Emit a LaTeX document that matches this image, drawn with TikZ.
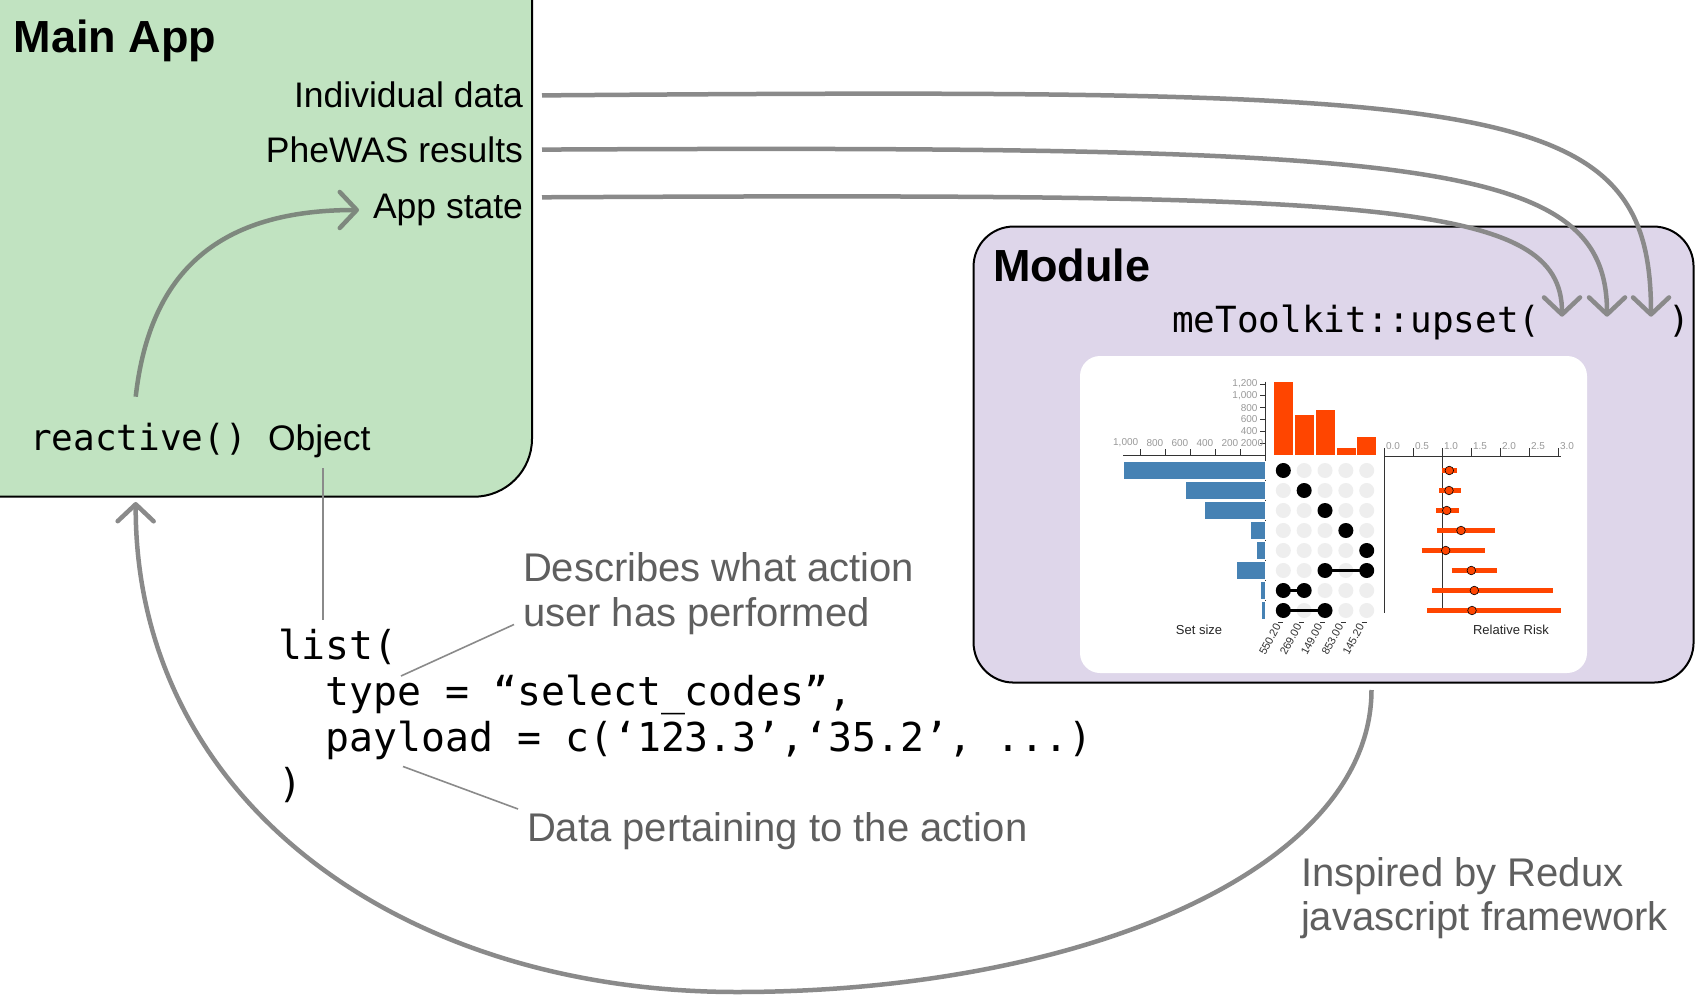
\documentclass[tikz,border=0pt]{standalone}
\usepackage{fontspec}
\setmainfont{Liberation Sans}
\newfontfamily\codefont{DejaVu Sans Mono}
\usetikzlibrary{arrows.meta}
\definecolor{appgreen}{HTML}{C1E3C1}
\definecolor{modlav}{HTML}{DED6EA}
\definecolor{flowgray}{HTML}{8A8A8A}
\definecolor{greenflow}{HTML}{7E887E}
\definecolor{notegray}{HTML}{5F5F5F}
\definecolor{setblue}{HTML}{4682B4}
\definecolor{isecred}{HTML}{FF4500}
\definecolor{dotgray}{HTML}{EEEEEE}
\definecolor{ticktext}{HTML}{999999}
\definecolor{axiscol}{HTML}{333333}
\begin{document}
\begin{tikzpicture}[x=1pt,y=-1pt,
  every node/.style={inner sep=0pt,outer sep=0pt},
  box/.style={draw=black,line width=2pt},
  titletext/.style={font=\fontsize{45}{50}\selectfont\bfseries},
  labeltext/.style={font=\fontsize{35.5}{40}\selectfont},
  codesmall/.style={font=\codefont\fontsize{36}{40}\selectfont},
  codebig/.style={font=\codefont\fontsize{39.8}{44}\selectfont},
  notetext/.style={font=\fontsize{40}{44}\selectfont,text=notegray},
  flow/.style={draw=flowgray,line width=4.5pt,-{Straight Barb[length=17pt,width=36pt,round]}},
  pointer/.style={draw=flowgray,line width=1.6pt},
  axisline/.style={draw=axiscol,line width=1pt},
  ticklab/.style={font=\fontsize{10}{12}\selectfont,text=ticktext},
  rotlab/.style={font=\fontsize{11}{13}\selectfont,text=axiscol},
  plotlab/.style={font=\fontsize{13}{15}\selectfont,text=black!85}
]
\useasboundingbox (0,0) rectangle (1700,1000);
\fill[white] (0,0) rectangle (1700,1000);

% ---------------- boxes ----------------
\node[box,fill=appgreen,minimum width=632pt,minimum height=596.7pt,rounded corners=58pt] (mainapp) at (216,198.35) {};
\node[box,fill=modlav,minimum width=720pt,minimum height=456pt,rounded corners=40pt] (module) at (1333.55,454.55) {};
\node[fill=white,minimum width=507pt,minimum height=317pt,rounded corners=20pt] (plotpanel) at (1333.5,514.5) {};

% ---------------- main app texts ----------------
\node[titletext,anchor=base west] (maintitle) at (13.6,52.3) {Main App};
\node[labeltext,anchor=base east] (indiv) at (523,107.2) {Individual data};
\node[labeltext,anchor=base east] (phewas) at (523,162.2) {PheWAS results};
\node[labeltext,anchor=base east] (appstate) at (523,218.4) {App state};
\node[codesmall,anchor=base west] (reactive) at (30,450) {reactive()};
\node[labeltext,anchor=base west] (object) at (268,450) {Object};

% ---------------- module texts ----------------
\node[titletext,anchor=base west] (modtitle) at (993,282) {Module};
\node[codesmall,anchor=base west] (upset) at (1172,332) {meToolkit::upset(};
\node[codesmall,anchor=base west] (upclose) at (1668,332) {)};

% ---------------- code block ----------------
\node[codebig,anchor=base west] (code1) at (278,659) {list(};
\node[codebig,anchor=base west] (code2) at (325.6,705) {type = “select\char"005F codes”,};
\node[codebig,anchor=base west] (code3) at (325.6,751) {payload = c(‘123.3’,‘35.2’, ...)};
\node[codebig,anchor=base west] (code4) at (278,797) {)};

% ---------------- notes ----------------
\node[notetext,anchor=base west] (desc1) at (523,581) {Describes what action};
\node[notetext,anchor=base west] (desc2) at (523,626) {user has performed};
\node[notetext,anchor=base west] (datanote) at (527,841) {Data pertaining to the action};
\node[notetext,anchor=base west] (insp1) at (1301,886) {Inspired by Redux};
\node[notetext,anchor=base west] (insp2) at (1301,930) {javascript framework};

% ---------------- pointer lines ----------------
\coordinate (objtop) at (323,468);
\coordinate (objbot) at (323,620);
\draw[pointer] (objtop) -- (objbot);
\coordinate (typept) at (401,676);
\coordinate (descpt) at (514,624.5);
\draw[pointer] (typept) -- (descpt);
\coordinate (paypt) at (403,766.5);
\coordinate (datapt) at (518,809);
\draw[pointer] (paypt) -- (datapt);

% ---------------- flow arrows ----------------
\coordinate (s1) at (542,95.4);  \coordinate (e1) at (1651,316.7);
\coordinate (s2) at (542,149.6); \coordinate (e2) at (1607,316.7);
\coordinate (s3) at (542,197.3); \coordinate (e3) at (1562,316.7);
\draw[flow] (s1) .. controls (1500,88) and (1651,95) .. (e1);
\draw[flow] (s2) .. controls (1430,145) and (1607,160) .. (e2);
\draw[flow] (s3) .. controls (1380,193) and (1562,200) .. (e3);

\coordinate (r1) at (135.7,396.7);
\coordinate (r2) at (359,210);
\draw[flow,draw=greenflow] (r1) .. controls (150,270) and (220,210) .. (r2);

\coordinate (b1) at (1371.5,690);
\coordinate (bm) at (737,992);
\coordinate (b2) at (135.7,502);
\draw[flow] (b1) .. controls (1371,870) and (1080,992) .. (bm) .. controls (400,992) and (135,800) .. (b2);

% ---------------- upset plot ----------------
% intersection size axis (vertical)
\draw[axisline] (1265.7,381.7) -- (1265.7,619);
\draw[axisline] (1260,455) -- (1265.7,455);
\foreach \k/\lab in {1/200,2/400,3/600,4/800,5/{1,000},6/{1,200}} {
  \pgfmathsetmacro{\ty}{455-11.83*\k}
  \draw[axisline] (1260,\ty) -- (1265.7,\ty);
  \node[ticklab,anchor=east] (ya\k) at (1257.5,\ty) {\lab};
}
% set size axis (horizontal)
\draw[axisline] (1123,455.7) -- (1265.7,455.7);
\foreach \k/\lab in {0/0,1/200,2/400,3/600,4/800,5/{1,000}} {
  \pgfmathsetmacro{\tx}{1265.7-25*\k}
  \draw[axisline] (\tx,449) -- (\tx,455.7);
  \node[ticklab,anchor=east] (xa\k) at (\tx-2.5,443) {\lab};
}
% set size bars
\foreach \i/\l in {1/1123.3,2/1185.7,3/1204.7,4/1250.7,5/1256.7,6/1236.3,7/1260.7,8/1261.7} {
  \pgfmathsetmacro{\ry}{470.5+20*(\i-1)}
  \fill[setblue,draw=white,line width=0.6pt] (\l,\ry-9.2) rectangle (1265.2,\ry+9.2);
}
% intersection bars
\foreach \j/\t in {1/381.7,2/414,3/409.3,4/447.3,5/436.7} {
  \pgfmathsetmacro{\cx}{1283.3+20.85*(\j-1)}
  \fill[isecred,draw=white,line width=0.6pt] (\cx-10,\t) rectangle (\cx+10,455);
}
% matrix dots
\foreach \i in {1,...,8} {
  \foreach \j in {1,...,5} {
    \fill[dotgray] ({1283.3+20.85*(\j-1)},{470.5+20*(\i-1)}) circle[radius=7.5pt];
  }
}
\draw[black,line width=3.5pt] (1325,570.5) -- (1366.7,570.5);
\draw[black,line width=3.5pt] (1283.3,590.5) -- (1304.2,590.5);
\draw[black,line width=3.5pt] (1283.3,610.5) -- (1325,610.5);
\foreach \i/\j in {1/1,2/2,3/3,4/4,5/5,6/3,6/5,7/1,7/2,8/1,8/3} {
  \fill[black] ({1283.3+20.85*(\j-1)},{470.5+20*(\i-1)}) circle[radius=7.5pt];
}
% rotated column labels
\foreach \j/\lab in {1/550.20,2/269.00,3/149.00,4/853.00,5/145.20} {
  \pgfmathsetmacro{\cx}{1283.3+20.85*(\j-1)}
  \draw[axisline] (\cx-5,622.5) -- (\cx,622.5);
  \node[rotlab,rotate=62,anchor=east] (xl\j) at (\cx-5.5,624.5) {\lab};
}
\node[plotlab,anchor=base] (setsize) at (1199,634) {Set size};

% relative risk panel
\draw[axisline] (1384.3,456) -- (1561,456);
\draw[axisline] (1384.3,456) -- (1384.3,613.3);
\draw[axisline] (1442.3,456) -- (1442.3,613.3);
\foreach \k/\lab in {0/0.0,1/0.5,2/1.0,3/1.5,4/2.0,5/2.5,6/3.0} {
  \pgfmathsetmacro{\tx}{1384.3+29*\k}
  \draw[axisline] (\tx,448) -- (\tx,456);
  \node[ticklab,anchor=west] (rr\k) at (\tx+1.8,446.5) {\lab};
}
\foreach \i/\lo/\hi/\pt in {1/1441.7/1457.3/1449.3,2/1439.3/1460.7/1449,3/1436/1459.3/1446.7,4/1437.3/1495/1461,5/1421.7/1485/1445.7,6/1451.7/1497.3/1471.3,7/1432/1552.6/1474.3,8/1427/1561/1472} {
  \pgfmathsetmacro{\ry}{470.5+20*(\i-1)}
  \draw[isecred,line width=5pt] (\lo,\ry) -- (\hi,\ry);
  \filldraw[fill=isecred,draw=black,line width=0.6pt] (\pt,\ry) circle[radius=4.3pt];
}
\node[plotlab,anchor=base] (rrlabel) at (1511,634) {Relative Risk};
\end{tikzpicture}
\end{document}
